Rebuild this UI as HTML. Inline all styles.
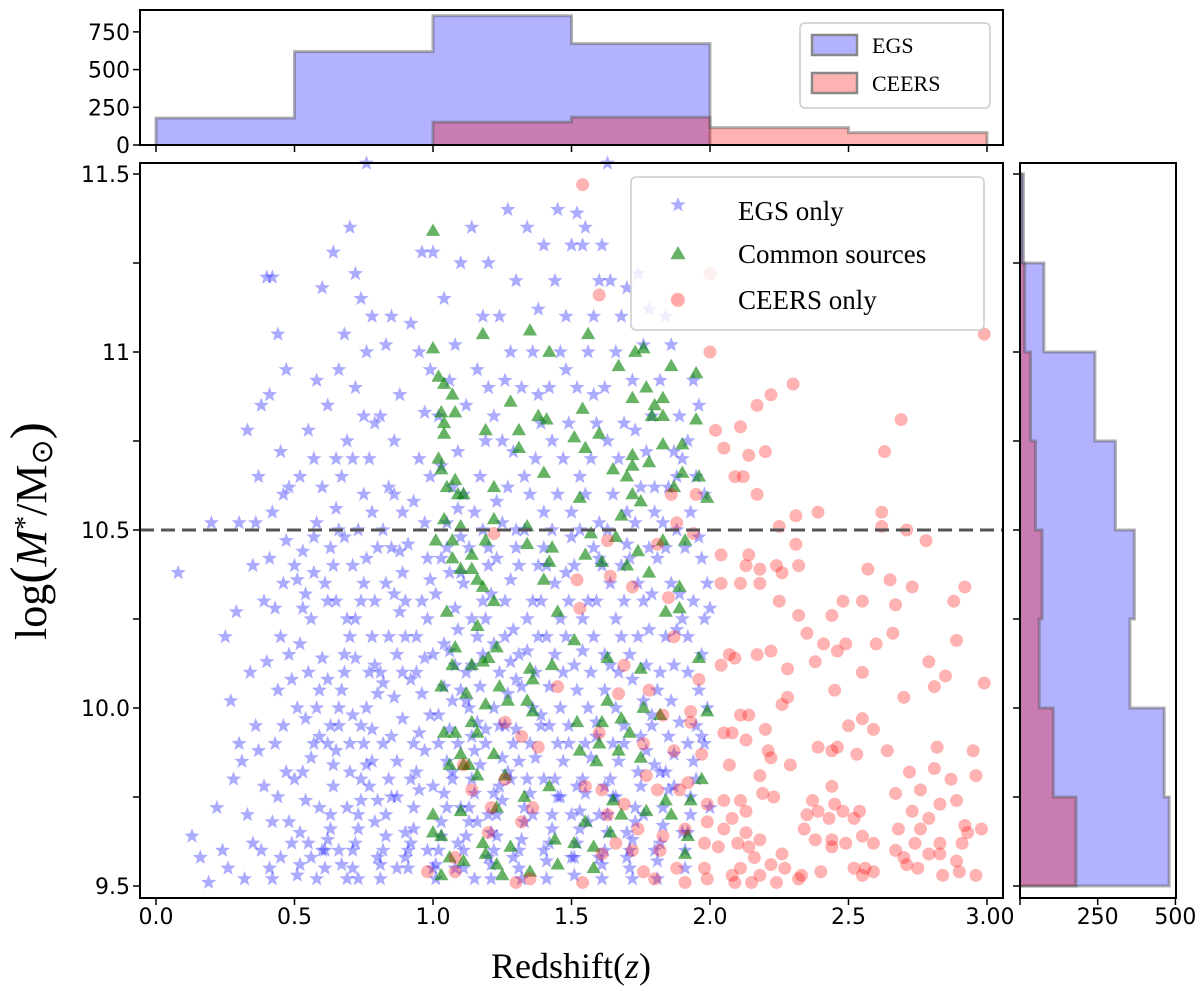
<!DOCTYPE html>
<html><head><meta charset="utf-8"><style>
body{margin:0;background:#fff;}
svg text{font-family:"DejaVu Sans","Liberation Sans",sans-serif;}
.serif{font-family:"Liberation Serif",serif;}
</style></head><body>
<svg id="fig" width="1200" height="1002" viewBox="0 0 1200 1002" xmlns="http://www.w3.org/2000/svg">
<g id="topHist"></g>
<g id="main"></g>
<g id="rightHist"></g>
</svg>
<script>
const zBins=[0,0.5,1,1.5,2,2.5,3];
const egsZCounts=[179,619,857,672,0,0];
const ceersZCounts=[0,0,152,184,115,82];
const mBins=[9.5,9.75,10,10.25,10.5,10.75,11,11.25,11.5];
const egsMCounts=[480,464,354,368,307,241,77,11];
const ceersMCounts=[180,107,62,71,50,34,15,5];
const xTicks=[0,0.5,1,1.5,2,2.5,3];
const xTickLabels=["0.0","0.5","1.0","1.5","2.0","2.5","3.00"];
const yTicks=[9.5,9.75,10,10.25,10.5,10.75,11,11.25,11.5];
const yTickLabels=["9.5","","10.0","","10.5","","11","","11.5"];
const histYTicks=[0,250,500,750];
const histXTicks=[250,500];
const massCut=10.5;
const egsOnly=[[0.08,10.38],[0.13,9.64],[0.16,9.58],[0.19,9.51],[0.2,10.52],[0.22,9.72],
[0.24,9.6],[0.26,9.55],[0.27,10.02],[0.28,9.8],[0.29,10.27],[0.3,9.9],[0.25,10.2],[0.3,10.52],
[0.32,9.52],[0.33,9.7],[0.34,10.1],[0.35,10.4],[0.36,9.95],[0.37,10.65],[0.38,9.6],[0.39,10.3],[0.38,10.85],[0.4,11.21],[0.42,11.21],[0.33,10.78],[0.36,10.52],[0.31,9.85],[0.39,9.78],
[0.41,9.55],[0.42,9.68],[0.43,9.9],[0.44,10.05],[0.45,10.2],[0.46,10.35],[0.47,10.47],[0.48,10.62],[0.45,10.72],[0.47,10.95],[0.44,11.05],[0.49,9.62],[0.5,9.8],[0.43,10.28],[0.41,10.88],[0.46,9.95],[0.48,10.15],[0.42,10.55],[0.5,10.4],[0.44,9.75],
[0.51,9.53],[0.52,9.65],[0.53,9.82],[0.54,9.97],[0.55,10.1],[0.56,10.25],[0.57,10.38],[0.58,10.52],[0.52,10.65],[0.55,10.78],[0.58,10.92],[0.6,11.18],[0.53,10.44],[0.56,9.58],[0.59,9.72],[0.57,9.9],[0.59,10.05],[0.52,10.18],[0.54,10.32],[0.6,10.62],[0.51,10.0],[0.58,9.52],
[0.61,9.55],[0.62,9.63],[0.63,9.7],[0.64,9.78],[0.65,9.88],[0.66,9.95],[0.67,10.05],[0.68,10.15],[0.69,10.25],[0.61,10.35],[0.63,10.45],[0.65,10.56],[0.67,10.65],[0.69,10.75],[0.62,10.85],[0.66,10.95],[0.68,11.05],[0.64,11.28],[0.7,11.35],[0.62,10.08],[0.66,9.6],[0.69,9.52],[0.63,9.95],[0.7,9.82],[0.65,10.3],[0.68,10.48],
[0.71,9.55],[0.72,9.62],[0.73,9.7],[0.74,9.8],[0.75,9.9],[0.76,10.0],[0.77,10.1],[0.78,10.2],[0.79,10.3],[0.71,10.4],[0.73,10.5],[0.75,10.6],[0.77,10.7],[0.79,10.8],[0.72,10.9],[0.76,11.0],[0.78,11.1],[0.74,11.15],[0.76,11.53],[0.72,11.22],[0.8,9.58],[0.74,9.95],[0.78,9.85],[0.72,10.25],[0.8,10.45],[0.75,10.35],[0.71,10.7],[0.79,9.68],
[0.81,9.52],[0.82,9.6],[0.83,9.7],[0.84,9.8],[0.85,9.92],[0.86,10.03],[0.87,10.15],[0.88,10.27],[0.89,10.38],[0.82,10.5],[0.84,10.62],[0.86,10.75],[0.88,10.88],[0.83,11.02],[0.85,11.1],[0.9,9.65],[0.87,9.75],[0.81,10.1],[0.9,10.2],[0.83,10.35],[0.89,10.55],[0.81,10.82],[0.87,9.55],[0.85,10.45],
[0.91,9.55],[0.92,9.62],[0.93,9.72],[0.94,9.82],[0.95,9.93],[0.96,10.04],[0.97,10.14],[0.98,10.25],[0.99,10.36],[0.91,10.46],[0.93,10.58],[0.95,10.7],[0.97,10.83],[0.99,10.95],[0.92,11.08],[0.96,11.28],[0.98,9.6],[1.0,9.78],[0.94,10.1],[0.9,10.3],[0.97,10.52],[0.93,9.9],[0.99,10.65],[0.95,11.0],
[1.01,9.52],[1.02,9.6],[1.03,9.68],[1.04,9.76],[1.05,9.85],[1.06,9.94],[1.07,10.02],[1.08,10.12],[1.09,10.22],[1.01,10.32],[1.03,10.42],[1.05,10.52],[1.07,10.62],[1.09,10.72],[1.02,10.82],[1.06,10.92],[1.08,11.02],[1.04,11.15],[1.1,11.25],[1.0,11.28],[1.08,9.55],[1.1,9.72],[1.02,9.9],[1.1,10.05],[1.04,10.18],[1.06,10.38],[1.1,10.48],[1.03,10.68],[1.07,9.82],[1.09,9.62],
[1.11,9.55],[1.12,9.64],[1.13,9.72],[1.14,9.8],[1.15,9.88],[1.16,9.96],[1.17,10.06],[1.18,10.15],[1.19,10.25],[1.11,10.35],[1.13,10.45],[1.15,10.55],[1.17,10.65],[1.19,10.75],[1.12,10.85],[1.16,10.95],[1.18,11.1],[1.2,11.25],[1.14,11.35],[1.2,9.58],[1.16,9.68],[1.19,9.9],[1.12,10.1],[1.2,10.4],[1.14,10.25],[1.18,10.5],[1.11,10.6],[1.2,10.9],[1.15,9.52],[1.13,10.0],
[1.21,9.52],[1.22,9.6],[1.23,9.7],[1.24,9.78],[1.25,9.86],[1.26,9.95],[1.27,10.04],[1.28,10.13],[1.29,10.22],[1.21,10.32],[1.23,10.42],[1.25,10.52],[1.27,10.62],[1.29,10.72],[1.22,10.82],[1.26,10.92],[1.28,11.0],[1.24,11.1],[1.3,11.2],[1.27,11.4],[1.21,9.65],[1.29,9.58],[1.24,9.95],[1.3,10.08],[1.22,10.18],[1.26,10.3],[1.3,10.45],[1.23,10.58],[1.28,9.8],[1.25,10.75],
[1.31,9.55],[1.32,9.63],[1.33,9.72],[1.34,9.8],[1.35,9.9],[1.36,10.0],[1.37,10.1],[1.38,10.2],[1.39,10.3],[1.31,10.4],[1.33,10.5],[1.35,10.6],[1.37,10.7],[1.39,10.8],[1.32,10.9],[1.36,11.0],[1.38,11.12],[1.4,11.3],[1.34,11.35],[1.4,9.6],[1.36,9.7],[1.39,9.95],[1.31,10.15],[1.34,10.25],[1.4,10.45],[1.33,10.65],[1.38,10.88],[1.31,9.85],
[1.41,9.52],[1.42,9.62],[1.43,9.7],[1.44,9.8],[1.45,9.9],[1.46,10.0],[1.47,10.1],[1.48,10.2],[1.49,10.3],[1.41,10.4],[1.43,10.5],[1.45,10.6],[1.47,10.7],[1.49,10.8],[1.42,10.9],[1.46,11.0],[1.48,11.1],[1.44,11.2],[1.5,11.3],[1.45,11.4],[1.5,9.58],[1.46,9.75],[1.49,9.95],[1.41,10.2],[1.44,10.35],[1.5,10.55],[1.43,10.75],[1.48,10.95],
[1.51,9.53],[1.52,9.62],[1.53,9.71],[1.54,9.8],[1.55,9.9],[1.56,10.0],[1.57,10.1],[1.58,10.2],[1.59,10.3],[1.51,10.4],[1.53,10.5],[1.55,10.6],[1.57,10.7],[1.59,10.8],[1.52,10.9],[1.56,11.0],[1.58,11.1],[1.6,11.2],[1.54,11.3],[1.52,11.39],[1.6,9.58],[1.56,9.68],[1.59,9.92],[1.51,10.12],[1.54,10.25],[1.6,10.42],[1.53,10.65],[1.58,10.88],[1.55,11.35],
[1.61,9.52],[1.62,9.6],[1.63,9.7],[1.64,9.8],[1.65,9.9],[1.66,10.0],[1.67,10.1],[1.68,10.2],[1.69,10.3],[1.61,10.4],[1.63,10.5],[1.65,10.6],[1.67,10.7],[1.69,10.8],[1.62,10.9],[1.66,11.0],[1.68,11.1],[1.64,11.2],[1.7,11.18],[1.63,11.53],[1.61,11.3],[1.7,9.65],[1.66,9.75],[1.69,9.95],[1.62,10.15],[1.64,10.35],[1.7,10.55],[1.63,10.75],
[1.71,9.55],[1.72,9.63],[1.73,9.72],[1.74,9.82],[1.75,9.92],[1.76,10.02],[1.77,10.12],[1.78,10.22],[1.79,10.32],[1.71,10.42],[1.73,10.52],[1.75,10.62],[1.77,10.72],[1.79,10.82],[1.72,10.92],[1.76,11.02],[1.78,11.12],[1.74,11.22],[1.8,9.6],[1.76,9.7],[1.79,9.95],[1.71,10.15],[1.74,10.35],[1.8,10.55],[1.73,10.78],
[1.81,9.52],[1.82,9.62],[1.83,9.72],[1.84,9.82],[1.85,9.92],[1.86,10.02],[1.87,10.12],[1.88,10.22],[1.89,10.32],[1.81,10.42],[1.83,10.52],[1.85,10.62],[1.87,10.72],[1.89,10.82],[1.82,10.92],[1.86,11.02],[1.84,11.1],[1.9,9.65],[1.87,9.78],[1.81,10.05],[1.9,10.25],[1.84,10.45],[1.88,10.65],
[1.91,9.55],[1.92,9.65],[1.93,9.75],[1.94,9.85],[1.95,9.95],[1.96,10.05],[1.97,10.15],[1.98,10.25],[1.99,10.35],[1.91,10.45],[1.93,10.55],[1.95,10.65],[1.92,10.75],[1.96,10.85],[1.94,10.92],[2.0,9.72],[1.98,9.9],[1.92,10.2],[2.0,10.28],[1.97,10.42]];
const egsOnlyDense=[
[0.35,9.62],[0.37,9.88],[0.4,10.13],[0.42,9.52],[0.45,9.58],[0.47,9.82],[0.49,10.08],[0.41,10.42],[0.46,10.6],[0.48,9.68],
[0.52,9.56],[0.54,9.74],[0.56,9.86],[0.58,10.0],[0.6,10.14],[0.53,10.28],[0.57,10.48],[0.55,9.62],[0.59,9.92],[0.51,10.36],[0.6,9.6],[0.57,10.7],
[0.61,9.6],[0.63,9.66],[0.64,9.84],[0.66,10.0],[0.68,10.1],[0.7,10.2],[0.62,10.3],[0.64,10.4],[0.66,10.5],[0.69,9.72],[0.67,9.56],[0.7,9.9],[0.65,10.7],[0.62,9.9],
[0.71,9.6],[0.73,9.66],[0.74,9.74],[0.76,9.84],[0.78,9.94],[0.8,10.04],[0.72,10.14],[0.74,10.3],[0.76,10.42],[0.78,10.55],[0.73,9.52],[0.77,9.78],[0.79,10.12],[0.8,9.74],[0.75,10.82],[0.71,9.98],
[0.81,9.56],[0.83,9.64],[0.85,9.75],[0.87,9.85],[0.89,9.97],[0.82,10.07],[0.84,10.2],[0.86,10.32],[0.88,10.44],[0.9,9.58],[0.82,9.9],[0.89,10.1],[0.86,10.6],
[0.91,9.6],[0.93,9.66],[0.95,9.77],[0.97,9.88],[0.99,9.98],[0.92,10.08],[0.94,10.2],[0.96,10.3],[0.98,10.42],[1.0,9.55],[0.92,9.8],[1.0,10.15],
[1.01,9.56],[1.03,9.64],[1.05,9.72],[1.07,9.8],[1.09,9.9],[1.02,9.98],[1.04,10.06],[1.06,10.16],[1.08,10.28],[1.1,10.38],[1.05,10.45],[1.09,10.56],
[1.11,9.6],[1.13,9.68],[1.15,9.76],[1.17,9.84],[1.19,9.94],[1.12,10.02],[1.14,10.12],[1.16,10.2],[1.18,10.3],[1.2,10.45],[1.14,9.92],[1.2,9.7],
[1.21,9.56],[1.23,9.64],[1.25,9.74],[1.27,9.82],[1.29,9.9],[1.22,10.0],[1.24,10.1],[1.26,10.2],[1.28,10.36],[1.3,10.5],[1.22,9.76],[1.3,9.94],
[1.31,9.6],[1.33,9.68],[1.35,9.76],[1.37,9.86],[1.39,9.98],[1.32,10.06],[1.34,10.16],[1.36,10.3],[1.38,10.4],[1.4,10.55],[1.32,9.52],[1.4,9.8],
[1.41,9.57],[1.43,9.66],[1.45,9.75],[1.47,9.85],[1.49,9.9],[1.42,10.06],[1.44,10.15],[1.46,10.25],[1.48,10.38],[1.5,10.48],[1.42,9.95],[1.5,9.7],
[1.51,9.58],[1.53,9.66],[1.55,9.76],[1.57,9.86],[1.59,9.96],[1.52,10.05],[1.54,10.16],[1.56,10.3],[1.58,10.45],[1.6,10.52],[1.52,9.78],[1.6,9.7],
[1.61,9.56],[1.63,9.65],[1.65,9.75],[1.67,9.85],[1.69,9.9],[1.62,10.05],[1.64,10.12],[1.66,10.25],[1.68,10.4],[1.7,10.46],[1.62,9.78],[1.7,9.58],
[1.71,9.6],[1.73,9.68],[1.75,9.78],[1.77,9.88],[1.79,9.98],[1.72,10.08],[1.74,10.2],[1.76,10.3],[1.78,10.45],[1.8,10.62],[1.72,9.52],[1.8,9.84],
[1.81,9.57],[1.83,9.67],[1.85,9.77],[1.87,9.87],[1.89,9.96],[1.82,10.1],[1.84,10.2],[1.86,10.35],[1.88,10.5],[1.9,10.7],[1.82,9.82],
[1.91,9.6],[1.93,9.7],[1.95,9.8],[1.97,9.92],[1.99,10.0],[1.92,10.1],[1.94,10.3],[1.96,10.48],[1.98,10.6],[1.92,9.9]];
const common=[[1.0,11.34],[1.0,11.01],[1.18,11.05],[1.35,11.06],[1.42,11.0],[1.02,10.93],[1.04,10.91],[1.07,10.88],[1.08,10.83],[1.28,10.86],[1.03,10.83],[1.04,10.8],[1.04,10.77],[1.19,10.78],[1.31,10.78],[1.38,10.82],[1.41,10.81],[1.31,10.73],[1.02,10.7],[1.03,10.67],[1.08,10.64],[1.05,10.62],[1.09,10.6],[1.11,10.6],[1.22,10.62],[1.4,10.66],[1.04,10.53],[1.1,10.51],[1.22,10.53],[1.34,10.51],
[1.56,11.05],[1.67,10.96],[1.73,11.0],[1.76,11.01],[1.86,10.96],[1.95,10.94],[1.77,10.9],[1.72,10.87],[1.83,10.87],[1.54,10.84],[1.8,10.85],[1.79,10.82],[1.83,10.82],[1.95,10.81],[1.6,10.77],[1.51,10.76],[1.55,10.73],[1.83,10.74],[1.9,10.74],[1.72,10.71],[1.78,10.69],[1.65,10.67],[1.72,10.68],[1.7,10.65],[1.9,10.66],[1.96,10.65],[1.53,10.59],[1.72,10.6],[1.75,10.58],[1.87,10.62],[1.99,10.59],[1.68,10.54],
[1.01,10.47],[1.07,10.47],[1.19,10.47],[1.07,10.42],[1.14,10.43],[1.1,10.39],[1.14,10.39],[1.16,10.36],[1.18,10.34],[1.22,10.3],[1.34,10.46],[1.43,10.45],[1.42,10.41],[1.4,10.36],[1.05,10.27],[1.16,10.23],[1.45,10.27],[1.08,10.17],[1.23,10.17],[1.2,10.14],[1.07,10.12],[1.14,10.12],[1.18,10.13],[1.35,10.11],[1.36,10.08],[1.43,10.12],[1.03,10.06],[1.12,10.04],[1.24,10.06],[1.19,10.01],[1.27,10.02],[1.34,10.02],[1.36,9.99],[1.14,9.96],[1.16,9.93],[1.08,9.93],[1.04,9.93],[1.1,9.87],[1.11,9.84],[1.06,9.84],[1.13,9.84],[1.22,9.87],[1.16,9.81],[1.26,9.81],[1.33,9.75],[1.23,9.72],[1.1,9.71],[1.0,9.7],[1.0,9.65],[1.03,9.64],[1.18,9.62],[1.28,9.61],[1.42,9.78],[1.44,9.63],[1.06,9.58],[1.11,9.57],[1.19,9.59],[1.23,9.56],[1.45,9.56],[1.03,9.53],[1.25,9.53],[1.35,9.54],
[1.57,10.49],[1.66,10.48],[1.83,10.47],[1.91,10.47],[1.55,10.43],[1.61,10.41],[1.7,10.4],[1.74,10.44],[1.78,10.38],[1.89,10.34],[1.89,10.28],[1.84,10.27],[1.51,10.19],[1.63,10.14],[1.75,10.11],[1.96,10.14],[1.63,10.02],[1.68,9.97],[1.76,10.0],[1.82,9.98],[1.99,9.99],[1.52,9.96],[1.61,9.96],[1.71,9.93],[1.6,9.9],[1.53,9.88],[1.67,9.88],[1.75,9.86],[1.59,9.85],[1.97,9.8],[1.65,9.74],[1.84,9.74],[1.93,9.74],[1.77,9.71],[1.86,9.7],[1.55,9.68],[1.68,9.7],[1.64,9.65],[1.92,9.64],[1.51,9.62],[1.58,9.61],[1.91,9.59],[1.58,9.55]];
const ceersOnly=[[2.04,10.43],[2.14,10.43],[2.13,10.4],[2.18,10.39],[2.24,10.4],[2.26,10.38],[2.31,10.46],[2.32,10.4],[2.11,10.35],[2.18,10.35],[2.04,10.35],[2.57,10.39],[2.65,10.36],[2.73,10.34],[2.78,10.47],[2.92,10.34],[2.88,10.3],[2.25,10.3],[2.48,10.3],[2.55,10.3],[2.67,10.29],[2.32,10.26],[2.44,10.26],[2.35,10.21],[2.41,10.18],[2.46,10.16],[2.49,10.18],[2.6,10.18],[2.66,10.21],[2.89,10.19],[2.07,10.15],[2.09,10.14],[2.04,10.12],[2.17,10.15],[2.22,10.16],[2.28,10.11],[2.38,10.13],[2.55,10.1],[2.45,10.05],[2.79,10.13],[2.85,10.09],[2.81,10.06],[2.99,10.07],[2.7,10.03],[2.28,10.03],[2.26,10.01],[2.11,9.98],[2.14,9.98],[2.05,9.93],[2.08,9.93],[2.2,9.94],[2.13,9.91],[2.5,9.95],[2.55,9.97],[2.59,9.94],[2.39,9.89],[2.44,9.88],[2.46,9.89],[2.53,9.87],[2.64,9.88],[2.82,9.89],[2.95,9.88],[2.21,9.88],[2.22,9.86],[2.29,9.84],[2.07,9.84],[2.18,9.81],[2.72,9.82],[2.81,9.83],[2.87,9.8],[2.96,9.81],[2.44,9.78],[2.19,9.76],[2.23,9.75],[2.67,9.76],[2.76,9.77],[2.05,9.74],[2.11,9.74],[2.13,9.71],[2.37,9.74],[2.35,9.7],[2.39,9.71],[2.45,9.73],[2.48,9.71],[2.54,9.71],[2.83,9.73],[2.89,9.74],[2.73,9.71],[2.08,9.69],[2.34,9.66],[2.43,9.69],[2.52,9.69],[2.68,9.66],[2.76,9.66],[2.79,9.69],[2.92,9.67],[2.98,9.66],[2.93,9.65],[2.05,9.66],[2.13,9.65],[2.18,9.63],[2.03,9.61],[2.1,9.62],[2.14,9.61],[2.38,9.63],[2.44,9.63],[2.44,9.61],[2.49,9.62],[2.55,9.64],[2.59,9.62],[2.67,9.6],[2.7,9.58],[2.74,9.62],[2.83,9.62],[2.83,9.59],[2.91,9.62],[2.79,9.59],[2.89,9.57],[2.16,9.58],[2.22,9.56],[2.26,9.59],[2.27,9.55],[2.11,9.55],[2.18,9.53],[2.08,9.53],[2.09,9.51],[2.15,9.51],[2.24,9.51],[2.33,9.53],[2.32,9.52],[2.4,9.54],[2.52,9.55],[2.55,9.53],[2.56,9.55],[2.59,9.54],[2.75,9.55],[2.84,9.53],[2.9,9.54],[2.96,9.53],[2.71,9.56],
[1.54,11.47],[1.6,11.16],[1.88,11.15],[2.0,11.22],[2.99,11.05],[2.0,11.0],[2.3,10.91],[2.22,10.88],[2.17,10.85],[2.69,10.81],[2.02,10.78],[2.11,10.79],[2.05,10.73],[2.14,10.71],[2.2,10.72],[2.63,10.72],[2.09,10.65],[2.12,10.65],[2.17,10.6],[1.86,10.6],[1.95,10.6],[2.31,10.54],[2.39,10.55],[2.62,10.55],[2.62,10.51],[2.25,10.51],[2.71,10.5],[1.88,10.52],
[1.22,10.49],[1.45,10.06],[1.26,9.96],[1.32,9.92],[1.38,9.89],[1.11,9.84],[1.26,9.8],[1.14,9.77],[1.21,9.72],[1.36,9.72],[1.32,9.68],[1.2,9.65],[1.08,9.58],[0.98,9.54],[1.08,9.54],[1.3,9.51],[1.35,9.52],
[1.63,10.47],[1.81,10.46],[1.94,10.49],[1.52,10.36],[1.72,10.34],[1.64,10.37],[1.85,10.31],[1.53,10.28],[1.87,10.2],[1.69,10.12],[1.96,10.08],[1.78,10.05],[1.67,10.04],[1.93,9.99],[1.83,9.98],[1.93,9.96],[1.6,9.93],[1.76,9.9],[1.87,9.88],[1.97,9.87],[1.77,9.81],[1.55,9.78],[1.61,9.77],[1.81,9.77],[1.89,9.77],[1.92,9.79],[1.99,9.73],[1.69,9.73],[1.63,9.7],[1.99,9.68],[1.74,9.66],[1.83,9.64],[1.66,9.62],[1.61,9.59],[1.72,9.6],[1.82,9.6],[1.91,9.66],[1.98,9.62],[1.88,9.55],[1.76,9.54],[1.8,9.52],[1.91,9.51],[1.99,9.52],[1.54,9.51],[1.98,9.55]];

const NS="http://www.w3.org/2000/svg";
function mk(tag,attrs,parent){const e=document.createElementNS(NS,tag);for(const k in attrs)e.setAttribute(k,attrs[k]);parent.appendChild(e);return e;}
const X0=140,X1=1003,Y0=163,Y1=898;
const xs=z=>156+z*277;
const ys=m=>886-(m-9.5)*356;
const mainG=document.getElementById('main');
function star(cx,cy,r){let p=[];for(let i=0;i<10;i++){const a=-Math.PI/2+i*Math.PI/5;const rr=i%2?r*0.42:r;p.push((cx+rr*Math.cos(a)).toFixed(1)+','+(cy+rr*Math.sin(a)).toFixed(1));}return p.join(' ');}
function tri(cx,cy,r){return `${cx},${cy-r} ${cx-r*0.95},${cy+r*0.65} ${cx+r*0.95},${cy+r*0.65}`;}
const gE=mk('g',{},mainG);


egsOnly.concat(egsOnlyDense).forEach(d=>{const e=mk('polygon',{points:star(xs(d[0]),ys(d[1]),8),fill:'rgba(0,0,255,0.33)'},gE);

});
const gC=mk('g',{},mainG);


common.forEach(d=>{const e=mk('polygon',{points:tri(xs(d[0]),ys(d[1]),7.5),fill:'rgba(0,128,0,0.6)'},gC);

});
const gR=mk('g',{},mainG);


ceersOnly.forEach(d=>{const e=mk('circle',{cx:xs(d[0]),cy:ys(d[1]),r:6.5,fill:'rgba(255,0,0,0.3)'},gR);

});
const dl=mk('line',{x1:X0,x2:X1,y1:ys(massCut),y2:ys(massCut),stroke:'#555',"stroke-width":3,"stroke-dasharray":"14,7"},mainG);


const fr=mk('rect',{x:X0,y:Y0,width:X1-X0,height:Y1-Y0,fill:'none',stroke:'#000','stroke-width':2},mainG);


xTicks.forEach((t,i)=>{mk('line',{x1:xs(t),x2:xs(t),y1:Y1,y2:Y1+7,stroke:'#000','stroke-width':1.5},mainG);
const tx=mk('text',{x:xs(t)+(i==6?3:0),y:924,'font-size':22,'text-anchor':'middle'},mainG);tx.textContent=xTickLabels[i];

});
yTicks.forEach((t,i)=>{mk('line',{x1:X0-7,x2:X0,y1:ys(t),y2:ys(t),stroke:'#000','stroke-width':1.5},mainG);
if(yTickLabels[i]){const tx=mk('text',{x:X0-10,y:ys(t)+8,'font-size':22,'text-anchor':'end'},mainG);tx.textContent=yTickLabels[i];

}});
const xt=mk('text',{x:571,y:978,'font-size':36,'text-anchor':'middle',class:'serif'},mainG);xt.innerHTML='Redshift(<tspan font-style="italic">z</tspan>)';


const yt=mk('text',{transform:'translate(46,531) rotate(-90)','font-size':44,'text-anchor':'middle',class:'serif'},mainG);yt.innerHTML='log<tspan font-size="52">(</tspan><tspan font-style="italic">M</tspan><tspan font-size="28" dy="-12">*</tspan><tspan dy="12">/M</tspan><tspan font-size="30" dy="6">⊙</tspan><tspan dy="-6" font-size="52">)</tspan>';


const lg=mk('g',{},mainG);


mk('rect',{x:631,y:177,width:353,height:153,rx:5,fill:'rgba(255,255,255,0.8)',stroke:'#ccc','stroke-width':1.5},lg);
mk('polygon',{points:star(678,205,8),fill:'rgba(0,0,255,0.33)'},lg);
mk('polygon',{points:tri(678,254,8),fill:'rgba(0,128,0,0.6)'},lg);
mk('circle',{cx:678,cy:300,r:7,fill:'rgba(255,0,0,0.3)'},lg);
[['EGS only',220],['Common sources',263],['CEERS only',309]].forEach(a=>{const t=mk('text',{x:738,y:a[1],'font-size':27,class:'serif'},lg);t.textContent=a[0];

});

const topG=document.getElementById('topHist');
const TY0=10,TY1=145;
const hy=v=>145-v*0.1508;
function stepHist(g,bins,counts,fill,stroke,sx,sy,vertical){
 for(let i=0;i<counts.length;i++){if(!counts[i])continue;
  let r;
  if(!vertical) r=mk('rect',{x:sx(bins[i]),y:sy(counts[i]),width:sx(bins[i+1])-sx(bins[i]),height:sy(0)-sy(counts[i]),fill:fill},g);
  else r=mk('rect',{x:sx(0),y:sy(bins[i+1]),width:sx(counts[i])-sx(0),height:sy(bins[i])-sy(bins[i+1]),fill:fill},g);
  
  }
 let d='';
 for(let i=0;i<counts.length;i++){if(!counts[i])continue;
  const prev=i>0?counts[i-1]:0;
  if(!vertical){const a=sx(bins[i]),b=sx(bins[i+1]),c=sy(counts[i]);
   d+=(d&&prev?'L':'M')+a+','+(prev?sy(prev):sy(0))+'L'+a+','+c+'L'+b+','+c;
   if(i==counts.length-1||!counts[i+1])d+='L'+b+','+sy(0);}
  else{const a=sy(bins[i]),b=sy(bins[i+1]),c=sx(counts[i]);
   d+=(d&&prev?'L':'M')+(prev?sx(prev):sx(0))+','+a+'L'+c+','+a+'L'+c+','+b;
   if(i==counts.length-1||!counts[i+1])d+='L'+sx(0)+','+b;}
 }
 mk('path',{d:d,fill:'none',stroke:stroke,'stroke-width':3,'stroke-opacity':0.45},g);
}
stepHist(topG,zBins,egsZCounts,'rgba(0,0,255,0.3)','#555',xs,hy,false);
stepHist(topG,zBins,ceersZCounts,'rgba(255,0,0,0.3)','#555',xs,hy,false);
mk('rect',{x:X0,y:TY0,width:X1-X0,height:TY1-TY0,fill:'none',stroke:'#000','stroke-width':2},topG);
xTicks.forEach(t=>mk('line',{x1:xs(t),x2:xs(t),y1:TY1,y2:TY1+7,stroke:'#000','stroke-width':1.5},topG));
histYTicks.forEach(t=>{mk('line',{x1:X0-7,x2:X0,y1:hy(t),y2:hy(t),stroke:'#000','stroke-width':1.5},topG);
const tx=mk('text',{x:X0-10,y:hy(t)+8,'font-size':22,'text-anchor':'end'},topG);tx.textContent=t;

});
const tl=mk('g',{},topG);


mk('rect',{x:800,y:23,width:190,height:85,rx:5,fill:'rgba(255,255,255,0.8)',stroke:'#ccc','stroke-width':1.5},tl);
mk('rect',{x:812,y:35,width:45,height:20,fill:'rgba(0,0,255,0.3)',stroke:'#888','stroke-width':2.5},tl);
mk('rect',{x:812,y:73,width:45,height:20,fill:'rgba(255,0,0,0.3)',stroke:'#888','stroke-width':2.5},tl);
[['EGS',53],['CEERS',91]].forEach(a=>{const t=mk('text',{x:872,y:a[1],'font-size':22,class:'serif'},tl);t.textContent=a[0];

});

const rh=document.getElementById('rightHist');
const RX0=1020,RX1=1176;
const hx=v=>1020+v*0.3108;
stepHist(rh,mBins,egsMCounts,'rgba(0,0,255,0.3)','#555',hx,ys,true);
stepHist(rh,mBins,ceersMCounts,'rgba(255,0,0,0.3)','#555',hx,ys,true);
mk('rect',{x:RX0,y:Y0,width:RX1-RX0,height:Y1-Y0,fill:'none',stroke:'#000','stroke-width':2},rh);
yTicks.forEach(t=>mk('line',{x1:RX0-7,x2:RX0,y1:ys(t),y2:ys(t),stroke:'#000','stroke-width':1.5},rh));
[0].concat(histXTicks).forEach(t=>{mk('line',{x1:hx(t),x2:hx(t),y1:Y1,y2:Y1+7,stroke:'#000','stroke-width':1.5},rh);
if(t){const tx=mk('text',{x:hx(t),y:924,'font-size':22,'text-anchor':'middle'},rh);tx.textContent=t;

}});
</script>
</body></html>
